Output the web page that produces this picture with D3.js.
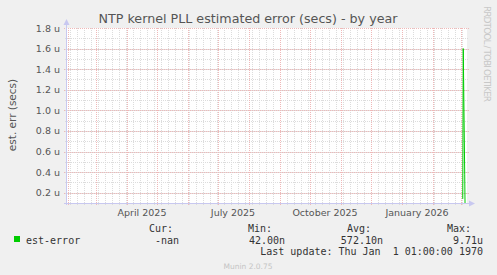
<!DOCTYPE html>
<html>
<head>
<meta charset="utf-8">
<script src="https://cdn.jsdelivr.net/npm/d3@7"></script>
<style>
  body { margin: 0; background: #f0f0f0; }
  svg { display: block; }
  text { font-family: "DejaVu Sans", sans-serif; }
  .mono { font-family: "DejaVu Sans Mono", monospace; font-size: 10px; fill: #333; }
</style>
</head>
<body>
<svg id="svg" width="497" height="275"></svg>
<script>
const svg = d3.select('#svg')

// ---- data ----
const startDate = new Date(2025, 0, 31)
const endDate = new Date(2026, 2, 7)
const yTicks = [0.2e-6, 0.4e-6, 0.6e-6, 0.8e-6, 1.0e-6, 1.2e-6, 1.4e-6, 1.6e-6, 1.8e-6]
const xLabels = [new Date(2025, 3, 16), new Date(2025, 6, 16), new Date(2025, 9, 16), new Date(2026, 0, 16)]
const xLabelText = ['April 2025', 'July 2025', 'October 2025', 'January 2026']
// only the last few days have samples, all the rest is unknown
const errDates = [new Date(2026, 2, 1), new Date(2026, 2, 2, 18), new Date(2026, 2, 3, 6), new Date(2026, 2, 4, 17), new Date(2026, 2, 5, 3), new Date(2026, 2, 6)]
const errValues = [NaN, 0.14e-6, 1.6e-6, 0.38e-6, 0.02e-6, NaN]
const legendHead = ['Cur:', 'Min:', 'Avg:', 'Max:']
const legendVals = ['-nan', '42.00n', '572.10n', '9.71u']

const pLeft = 67, pRight = 467, pTop = 28, pBottom = 203

const x = d3.scaleTime().domain([startDate, endDate]).range([pLeft, pRight])
const y = d3.scaleLinear().domain([0.1e-6, 1.8e-6]).range([pBottom, pTop])

// plot area
svg.append('rect')
    .attr('x', pLeft).attr('y', pTop)
    .attr('width', pRight - pLeft).attr('height', pBottom - pTop)
    .attr('fill', '#ffffff')

const minorCol = '#dcdcdc', majorCol = '#efb8b8'

// minor grid
const weeks = d3.timeMonday.range(startDate, endDate)
svg.append('g').selectAll('line').data(weeks).join('line')
    .attr('x1', d => Math.round(x(d)) + 0.5).attr('x2', d => Math.round(x(d)) + 0.5)
    .attr('y1', pTop).attr('y2', pBottom + 2)
    .attr('stroke', minorCol).attr('stroke-dasharray', '1,1')

const yMinor = d3.range(1, 18).map(d => d * 0.1e-6)
svg.append('g').selectAll('line').data(yMinor).join('line')
    .attr('x1', pLeft - 2).attr('x2', pRight + 2)
    .attr('y1', d => Math.round(y(d)) + 0.5).attr('y2', d => Math.round(y(d)) + 0.5)
    .attr('stroke', minorCol).attr('stroke-dasharray', '1,1')

// major grid
const months = d3.timeMonth.range(startDate, endDate)
svg.append('g').selectAll('line').data(months).join('line')
    .attr('x1', d => Math.round(x(d)) + 0.5).attr('x2', d => Math.round(x(d)) + 0.5)
    .attr('y1', pTop).attr('y2', pBottom + 3)
    .attr('stroke', majorCol).attr('stroke-dasharray', '1,1')

svg.append('g').selectAll('line').data(yTicks).join('line')
    .attr('x1', pLeft - 3).attr('x2', pRight + 2)
    .attr('y1', d => Math.round(y(d)) + 0.5).attr('y2', d => Math.round(y(d)) + 0.5)
    .attr('stroke', majorCol).attr('stroke-dasharray', '1,1')

// tick labels
svg.append('g').selectAll('text').data(yTicks).join('text')
    .attr('x', 60).attr('y', d => y(d) + 3.5)
    .attr('text-anchor', 'end')
    .attr('font-size', 9.5).attr('fill', '#555')
    .text(d => d3.format('.1f')(d * 1e6) + ' u')

svg.append('g').selectAll('text').data(xLabels).join('text')
    .attr('x', d => x(d)).attr('y', 216)
    .attr('text-anchor', 'middle')
    .attr('font-size', 9.5).attr('fill', '#555')
    .text((d, i) => xLabelText[i])

// series
svg.append('clipPath').attr('id', 'clip')
  .append('rect').attr('x', pLeft).attr('y', pTop).attr('width', pRight - pLeft).attr('height', pBottom - pTop)

const line = d3.line()
    .defined(d => !isNaN(d[1]))
    .x(d => x(d[0]))
    .y(d => y(d[1]))

svg.append('path')
    .datum(errDates.map((d, i) => [d, errValues[i]]))
    .attr('clip-path', 'url(#clip)')
    .attr('fill', 'none')
    .attr('stroke', '#00cc00')
    .attr('stroke-width', 1)
    .attr('d', line)

// axes with arrows
const axisCol = '#c8c8f0'
svg.append('line').attr('x1', pLeft - 0.5).attr('x2', pLeft - 0.5).attr('y1', pBottom + 2).attr('y2', pTop - 6)
    .attr('stroke', axisCol)
svg.append('path').attr('d', `M${pLeft - 3.5},${pTop - 3} L${pLeft - 0.5},${pTop - 9} L${pLeft + 2.5},${pTop - 3} Z`).attr('fill', axisCol)
svg.append('line').attr('x1', pLeft - 3).attr('x2', pRight + 4).attr('y1', pBottom + 0.5).attr('y2', pBottom + 0.5)
    .attr('stroke', axisCol)
svg.append('path').attr('d', `M${pRight + 2},${pBottom - 2.5} L${pRight + 8},${pBottom + 0.5} L${pRight + 2},${pBottom + 3.5} Z`).attr('fill', axisCol)

// titles
svg.append('text')
    .attr('x', 248).attr('y', 23)
    .attr('text-anchor', 'middle')
    .attr('font-size', 12.7).attr('fill', '#555')
    .text('NTP kernel PLL estimated error (secs) - by year')

svg.append('text')
    .attr('transform', 'translate(16,115) rotate(-90)')
    .attr('text-anchor', 'middle')
    .attr('font-size', 10.5).attr('fill', '#555')
    .text('est. err (secs)')

svg.append('text')
    .attr('transform', 'translate(484,6) rotate(90)')
    .attr('font-size', 9).attr('fill', '#c8c8c8')
    .attr('textLength', 96).attr('lengthAdjust', 'spacing')
    .text('RRDTOOL / TOBI OETIKER')

// legend
svg.append('rect').attr('x', 14).attr('y', 236).attr('width', 6).attr('height', 6).attr('fill', '#00cc00')
svg.append('text').attr('class', 'mono').attr('x', 26).attr('y', 243.5).text('est-error')

const colRight = [173, 272, 371, 471]
const valRight = [179, 285, 383, 483]
svg.append('g').selectAll('text').data(legendHead).join('text')
    .attr('class', 'mono')
    .attr('x', (d, i) => colRight[i]).attr('y', 231.5)
    .attr('text-anchor', 'end')
    .text(d => d)
svg.append('g').selectAll('text').data(legendVals).join('text')
    .attr('class', 'mono')
    .attr('x', (d, i) => valRight[i]).attr('y', 243.5)
    .attr('text-anchor', 'end')
    .text(d => d)

svg.append('text').attr('class', 'mono')
    .attr('x', 483).attr('y', 254.5)
    .attr('text-anchor', 'end')
    .attr('xml:space', 'preserve')
    .style('white-space', 'pre')
    .text('Last update: Thu Jan  1 01:00:00 1970')

svg.append('text')
    .attr('x', 248).attr('y', 269)
    .attr('text-anchor', 'middle')
    .attr('font-size', 7.5).attr('fill', '#c4c4c4')
    .text('Munin 2.0.75')
</script>
</body>
</html>
